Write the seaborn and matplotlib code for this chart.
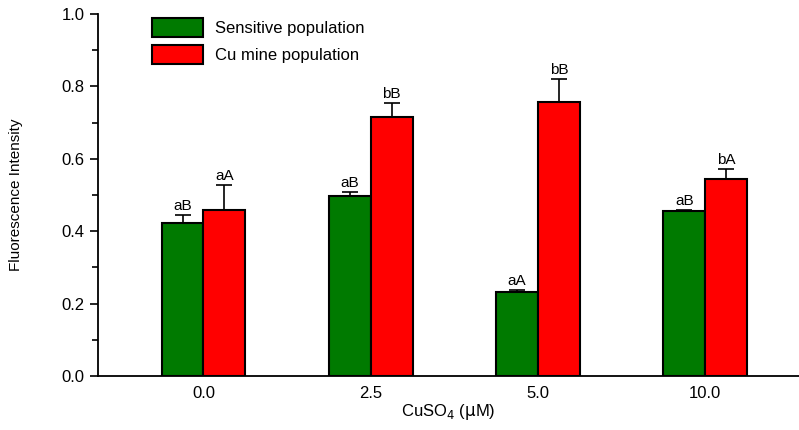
import matplotlib
matplotlib.use("Agg")
import matplotlib.pyplot as plt
from matplotlib.ticker import MultipleLocator
import pandas as pd
import seaborn as sns

# -- data --------------------------------------------------------------------

concentrations = ["0.0", "2.5", "5.0", "10.0"]
populations = ["Sensitive population", "Cu mine population"]

sensitive_mean = [0.423, 0.497, 0.232, 0.456]
sensitive_err = [0.022, 0.011, 0.006, 0.003]
sensitive_labels = ["aB", "aB", "aA", "aB"]

cumine_mean = [0.459, 0.715, 0.757, 0.544]
cumine_err = [0.069, 0.039, 0.063, 0.028]
cumine_labels = ["aA", "bB", "bB", "bA"]

# -- style -------------------------------------------------------------------

sns.set_style("ticks")
plt.rcParams["font.family"] = ["Liberation Sans", "DejaVu Sans"]
plt.rcParams.update(
    {
        "text.color": "black",
        "axes.labelcolor": "black",
        "axes.edgecolor": "black",
        "xtick.color": "black",
        "ytick.color": "black",
    }
)

palette = {"Sensitive population": "#007a00", "Cu mine population": "#ff0000"}

df = pd.DataFrame(
    {
        "conc": concentrations * 2,
        "population": [populations[0]] * 4 + [populations[1]] * 4,
        "value": sensitive_mean + cumine_mean,
    }
)

fig = plt.figure(figsize=(7.99, 4.30), dpi=100)
ax = fig.add_axes([0.1227, 0.1256, 0.8773, 0.8418])

sns.barplot(
    data=df,
    x="conc",
    y="value",
    hue="population",
    order=concentrations,
    hue_order=populations,
    palette=palette,
    saturation=1,
    width=0.5,
    errorbar=None,
    edgecolor="black",
    linewidth=1.5,
    ax=ax,
)

# error bars (upper only) + significance letters
for cont, err_list, lab_list in zip(
    ax.containers, [sensitive_err, cumine_err], [sensitive_labels, cumine_labels]
):
    for patch, e, lab in zip(cont.patches, err_list, lab_list):
        xc = patch.get_x() + patch.get_width() / 2
        h = patch.get_height()
        ax.errorbar(
            xc, h, yerr=[[0], [e]], fmt="none", ecolor="black",
            elinewidth=1.2, capsize=6, capthick=1.2,
        )
        ax.text(xc, h + e + 0.006, lab, ha="center", va="bottom", fontsize=11)

ax.set_ylim(0, 1.0)
ax.set_xlim(-0.63, 3.56)
ax.yaxis.set_major_locator(MultipleLocator(0.2))
ax.yaxis.set_minor_locator(MultipleLocator(0.1))
ax.set_yticklabels([f"{v:.1f}" for v in ax.get_yticks()])
ax.tick_params(axis="y", which="major", length=6, width=1.2, labelsize=12)
ax.tick_params(axis="y", which="minor", length=4, width=1.2)
ax.tick_params(axis="x", length=0, labelsize=12, pad=7)
for side in ["left", "bottom"]:
    ax.spines[side].set_linewidth(1.3)
sns.despine(ax=ax)

ax.set_xlabel(r"CuSO$_4$ ($\mathrm{\mu}$M)", fontsize=12, labelpad=1)
ax.set_ylabel("Fluorescence Intensity", fontsize=11, labelpad=28)

ax.legend(
    loc="upper left",
    bbox_to_anchor=(0.055, 1.03),
    frameon=False,
    fontsize=12,
    handlelength=3.1,
    handleheight=1.4,
    labelspacing=0.45,
    handletextpad=0.7,
)

fig.savefig("out.png", dpi=100)
